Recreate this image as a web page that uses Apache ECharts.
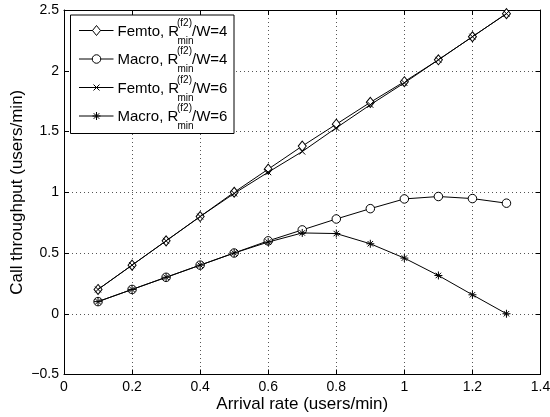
<!DOCTYPE html>
<html>
<head>
<meta charset="utf-8">
<script src="https://cdn.jsdelivr.net/npm/echarts@6/dist/echarts.min.js"></script>
<style>
html,body{margin:0;padding:0;background:#fff;}
#chart{width:550px;height:417px;}
</style>
</head>
<body>
<div id="chart"></div>
<script>
var arrivalRates = [0.1, 0.2, 0.3, 0.4, 0.5, 0.6, 0.7, 0.8, 0.9, 1.0, 1.1, 1.2, 1.3];
var femtoW4 = [0.20, 0.40, 0.60, 0.80, 1.00, 1.19, 1.38, 1.56, 1.74, 1.91, 2.09, 2.28, 2.47];
var macroW4 = [0.10, 0.20, 0.30, 0.40, 0.50, 0.60, 0.69, 0.78, 0.865, 0.945, 0.965, 0.948, 0.91];
var femtoW6 = [0.20, 0.40, 0.60, 0.80, 0.99, 1.165, 1.335, 1.53, 1.72, 1.90, 2.09, 2.28, 2.47];
var macroW6 = [0.10, 0.20, 0.30, 0.40, 0.50, 0.59, 0.665, 0.66, 0.576, 0.458, 0.315, 0.156, 0.0];
var seriesPrefix = ['Femto, R', 'Macro, R', 'Femto, R', 'Macro, R'];
var seriesSup = '(f2)';
var seriesSub = 'min';
var seriesSuffix = ['/W=4', '/W=4', '/W=6', '/W=6'];
var xTickLabels = ['0', '0.2', '0.4', '0.6', '0.8', '1', '1.2', '1.4'];
var yTickLabels = ['\u22120.5', '0', '0.5', '1', '1.5', '2', '2.5'];
var xAxisTitle = 'Arrival rate (users/min)';
var yAxisTitle = 'Call throughput (users/min)';

var FONT = '"Liberation Sans", Arial, Helvetica, sans-serif';
var X_PATH = 'path://M0,0L10,10M10,0L0,10';
var STAR_PATH = 'path://M5,0L5,10M0,5L10,5M1.6,1.6L8.4,8.4M8.4,1.6L1.6,8.4';

function zip(xs, ys) { return xs.map(function (x, i) { return [x, ys[i]]; }); }

var markers = [
  { symbol: 'diamond', size: [8, 10], fill: '#fff' },
  { symbol: 'circle', size: 8.5, fill: '#fff' },
  { symbol: X_PATH, size: 6, fill: 'none' },
  { symbol: STAR_PATH, size: 8, fill: 'none' }
];
var allValues = [femtoW4, macroW4, femtoW6, macroW6];

var series = allValues.map(function (vals, k) {
  return {
    type: 'line',
    name: seriesPrefix[k] + seriesSup + seriesSub + seriesSuffix[k],
    data: zip(arrivalRates, vals),
    symbol: markers[k].symbol,
    symbolSize: markers[k].size,
    showAllSymbol: true,
    lineStyle: { color: '#000', width: 1 },
    itemStyle: { color: markers[k].fill, borderColor: '#000', borderWidth: 1 },
    emphasis: { disabled: true },
    z: 3 + k
  };
});

// Legend drawn with graphic elements (to allow stacked super/subscripts)
var legendTop = 30.5, legendStep = 28.5;
var legendChildren = [{
  type: 'rect', shape: { x: 70.5, y: 15, width: 163.5, height: 118.5 },
  style: { fill: '#fff', stroke: '#000', lineWidth: 1 }, z: 10
}];
function seg(x1, y1, x2, y2) {
  return { type: 'line', shape: { x1: x1, y1: y1, x2: x2, y2: y2 }, style: { stroke: '#000', lineWidth: 1 }, z: 12 };
}
function legendSymbol(k, cx, cy) {
  var st = { fill: '#fff', stroke: '#000', lineWidth: 1 };
  if (k === 0) return [{ type: 'polygon', shape: { points: [[cx, cy - 5], [cx + 4, cy], [cx, cy + 5], [cx - 4, cy]] }, style: st, z: 12 }];
  if (k === 1) return [{ type: 'circle', shape: { cx: cx, cy: cy, r: 4.25 }, style: st, z: 12 }];
  if (k === 2) return [seg(cx - 3, cy - 3, cx + 3, cy + 3), seg(cx + 3, cy - 3, cx - 3, cy + 3)];
  return [seg(cx, cy - 4, cx, cy + 4), seg(cx - 4, cy, cx + 4, cy), seg(cx - 2.8, cy - 2.8, cx + 2.8, cy + 2.8), seg(cx + 2.8, cy - 2.8, cx - 2.8, cy + 2.8)];
}
for (var k = 0; k < 4; k++) {
  var cy = legendTop + k * legendStep;
  legendChildren.push({ type: 'line', shape: { x1: 79, y1: cy, x2: 113.5, y2: cy }, style: { stroke: '#000', lineWidth: 1 }, z: 11 });
  legendChildren = legendChildren.concat(legendSymbol(k, 96.5, cy));
  legendChildren.push({ type: 'text', x: 117.5, y: cy + 1, style: { text: seriesPrefix[k], font: '15px ' + FONT, fill: '#000', textAlign: 'left', textVerticalAlign: 'middle' }, z: 12 });
  legendChildren.push({ type: 'text', x: 177, y: cy - 7.5, style: { text: seriesSup, font: '10px ' + FONT, fill: '#000', textAlign: 'left', textVerticalAlign: 'middle' }, z: 12 });
  legendChildren.push({ type: 'text', x: 177.5, y: cy + 10.5, style: { text: seriesSub, font: '10px ' + FONT, fill: '#000', textAlign: 'left', textVerticalAlign: 'middle' }, z: 12 });
  legendChildren.push({ type: 'text', x: 192, y: cy + 1, style: { text: seriesSuffix[k], font: '15px ' + FONT, fill: '#000', textAlign: 'left', textVerticalAlign: 'middle' }, z: 12 });
}

var splitStyle = { show: true, lineStyle: { color: '#555', width: 1, type: [1, 3] } };
var lineStyleAxis = { show: true, onZero: false, lineStyle: { color: '#000', width: 1 } };

var option = {
  animation: false,
  backgroundColor: '#fff',
  grid: { left: 64, right: 9.5, top: 10, bottom: 42.5, show: false, containLabel: false, outerBoundsMode: 'none' },
  xAxis: [{
    type: 'value', min: 0, max: 1.4, interval: 0.2, position: 'bottom',
    axisLine: lineStyleAxis,
    axisTick: { show: true, inside: true, length: 5, lineStyle: { color: '#000' } },
    axisLabel: { color: '#000', fontSize: 14, fontFamily: FONT, margin: 6, formatter: function (v, i) { return xTickLabels[i]; } },
    splitLine: splitStyle,
    name: xAxisTitle, nameLocation: 'middle', nameGap: 21, nameMoveOverlap: false,
    nameTextStyle: { color: '#000', fontSize: 17, fontFamily: FONT }
  }, {
    type: 'value', min: 0, max: 1.4, interval: 0.2, position: 'top',
    axisLine: lineStyleAxis,
    axisTick: { show: true, inside: true, length: 5, lineStyle: { color: '#000' } },
    axisLabel: { show: false }, splitLine: { show: false }
  }],
  yAxis: [{
    type: 'value', min: -0.5, max: 2.5, interval: 0.5, position: 'left',
    axisLine: lineStyleAxis,
    axisTick: { show: true, inside: true, length: 5, lineStyle: { color: '#000' } },
    axisLabel: { color: '#000', fontSize: 14, fontFamily: FONT, margin: 5, formatter: function (v, i) { return yTickLabels[i]; } },
    splitLine: splitStyle,
    name: yAxisTitle, nameLocation: 'middle', nameGap: 38, nameMoveOverlap: false,
    nameTextStyle: { color: '#000', fontSize: 17, fontFamily: FONT }
  }, {
    type: 'value', min: -0.5, max: 2.5, interval: 0.5, position: 'right',
    axisLine: lineStyleAxis,
    axisTick: { show: true, inside: true, length: 5, lineStyle: { color: '#000' } },
    axisLabel: { show: false }, splitLine: { show: false }
  }],
  graphic: [{ type: 'group', children: legendChildren }],
  series: series
};

var chart = echarts.init(document.getElementById('chart'), null, { renderer: 'canvas' });
chart.setOption(option);
</script>
</body>
</html>
